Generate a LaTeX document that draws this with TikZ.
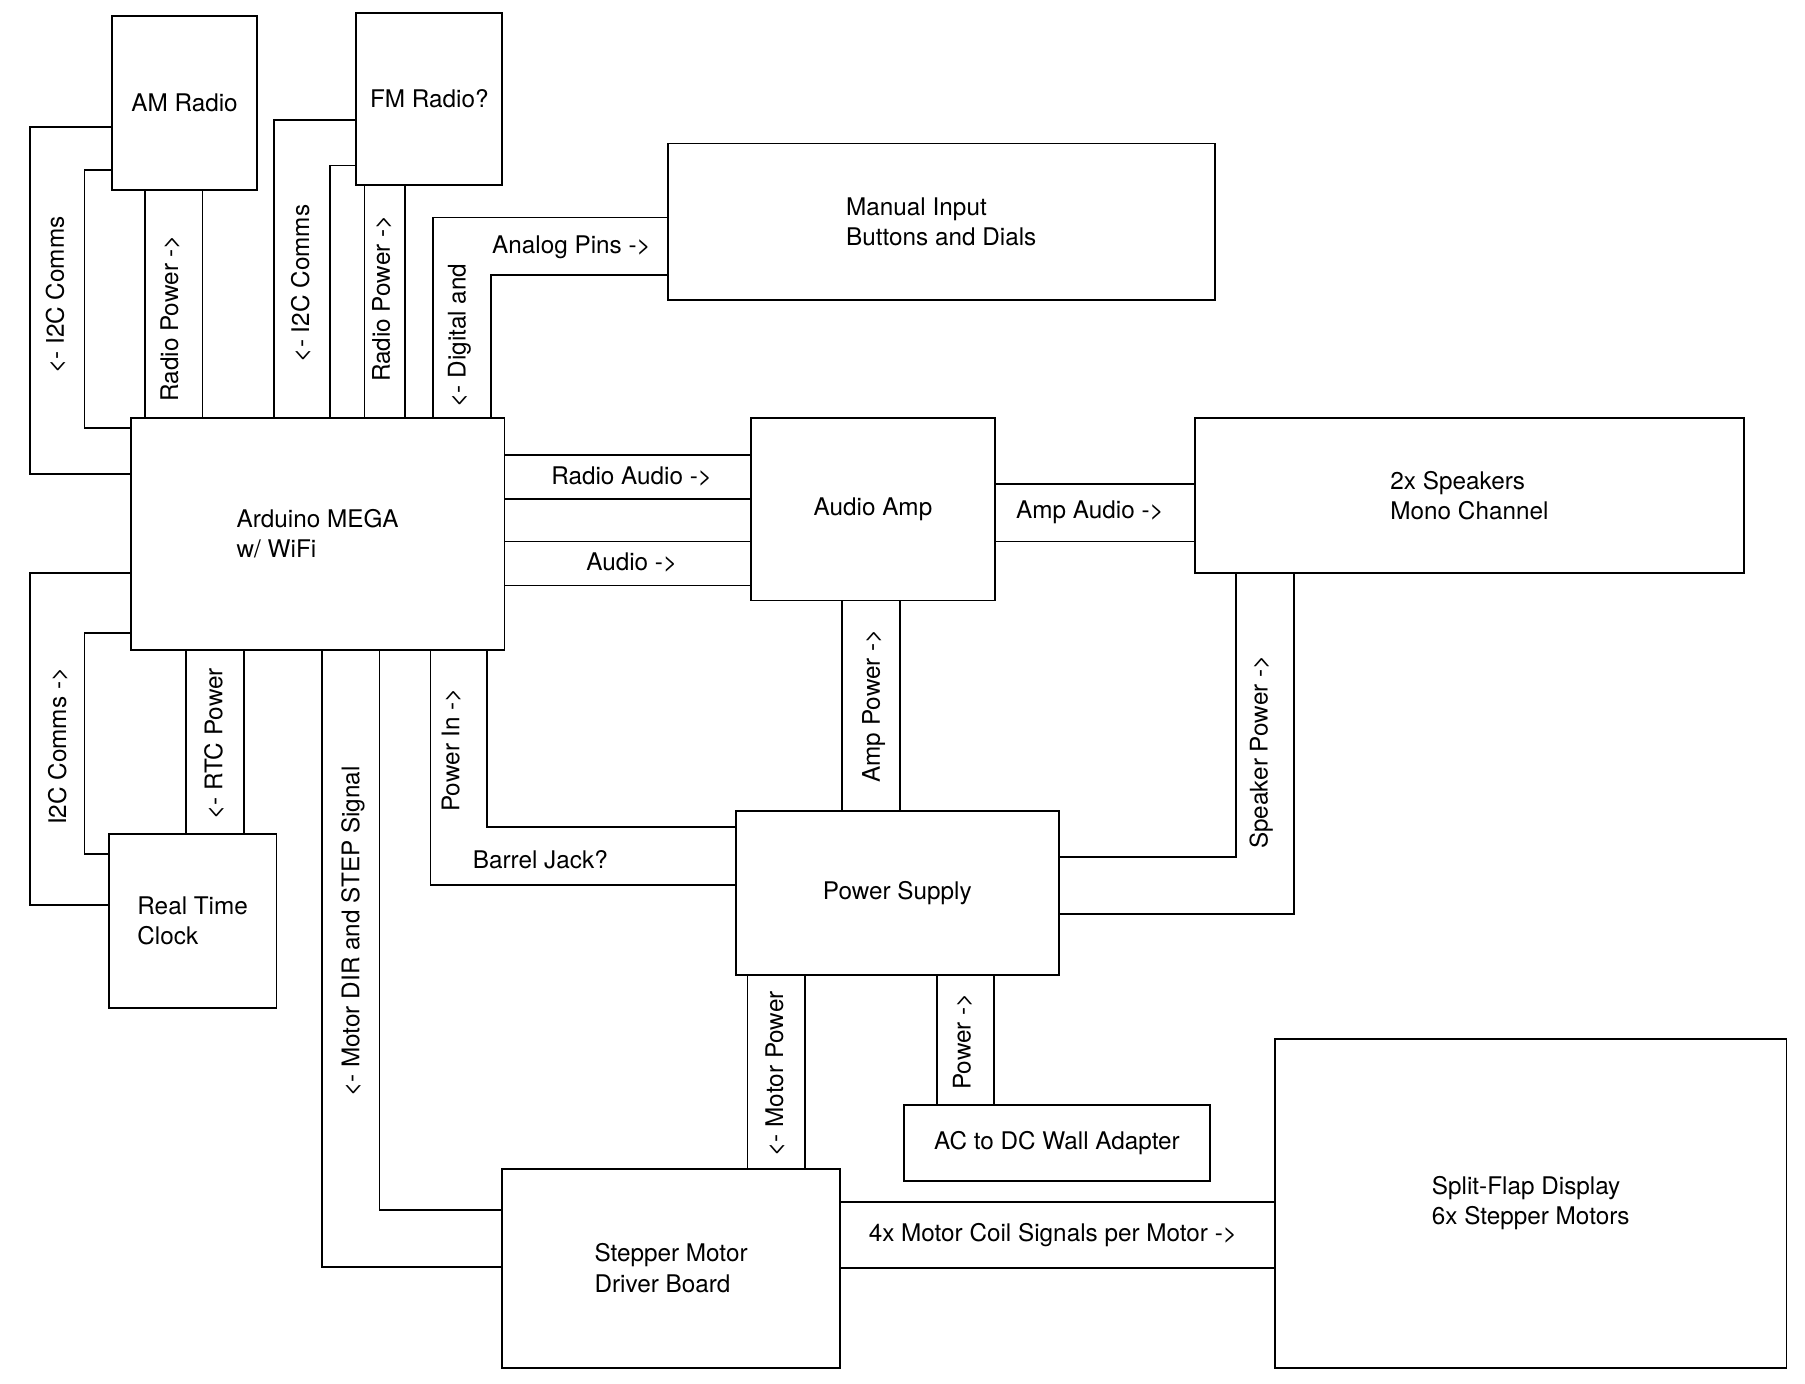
\documentclass[tikz,border=0pt]{standalone}
\usepackage{fontspec}
\setmainfont{TeX Gyre Heros}
\begin{document}
\begin{tikzpicture}[x=0.5pt,y=-0.5pt,line width=0.8pt,
 box/.style={draw,inner sep=0pt,align=left,font=\fontsize{10.5}{13}\selectfont},
 lab/.style={font=\fontsize{10.5}{13}\selectfont,inner sep=1pt},
 rot/.style={lab,rotate=90}]
\useasboundingbox (0,0) rectangle (1560,1196);
\newcommand\bx[6]{\node[box,minimum width={(#4-#2)*0.5pt},minimum height={(#5-#3)*0.5pt}] (#1) at ({(#2+#4)/2},{(#3+#5)/2}) {#6};}
\bx{am}{97}{14}{222}{164}{AM Radio}
\bx{fm}{308}{11}{434}{160}{FM Radio?}
\bx{man}{577}{124}{1050}{259}{Manual Input\\Buttons and Dials}
\bx{ard}{113}{361}{436}{562}{Arduino MEGA\\w/ WiFi}
\bx{amp}{649}{361}{860}{519}{Audio Amp}
\bx{spk}{1033}{361}{1507}{495}{2x Speakers\\Mono Channel}
\bx{ps}{636}{701}{915}{843}{Power Supply}
\bx{rtc}{94}{721}{239}{871}{Real Time\\Clock}
\bx{ac}{781}{955}{1046}{1021}{AC to DC Wall Adapter}
\bx{stp}{434}{1010}{726}{1182}{Stepper Motor\\Driver Board}
\bx{sfd}{1102}{898}{1544}{1182}{Split-Flap Display\\6x Stepper Motors}
% AM radio
\draw (ard.west |- 0,410) -| (26,110) -- (am.west |- 0,110);
\draw (ard.west |- 0,370) -| (73,147) -- (am.west |- 0,147);
\node[rot] at (48,255) {<- I2C Comms};
\draw (am.south -| 125,0) -- (ard.north -| 125,0);
\draw (am.south -| 175,0) -- (ard.north -| 175,0);
\node[rot] at (147,275) {Radio Power ->};
% FM radio
\draw (ard.north -| 237,0) |- (fm.west |- 0,104);
\draw (ard.north -| 285,0) |- (fm.west |- 0,143);
\node[rot] at (260,245) {<- I2C Comms};
\draw (fm.south -| 315,0) -- (ard.north -| 315,0);
\draw (fm.south -| 350,0) -- (ard.north -| 350,0);
\node[rot] at (330,258) {Radio Power ->};
% Manual
\draw (ard.north -| 374,0) |- (man.west |- 0,188);
\draw (ard.north -| 424,0) |- (man.west |- 0,238);
\node[rot] at (397,290) {<- Digital and};
\node[lab] at (494,214) {Analog Pins ->};
% audio
\draw (ard.east |- 0,393) -- (amp.west |- 0,393);
\draw (ard.east |- 0,431) -- (amp.west |- 0,431);
\node[lab] at (546,412) {Radio Audio ->};
\draw (ard.east |- 0,468) -- (amp.west |- 0,468);
\draw (ard.east |- 0,506) -- (amp.west |- 0,506);
\node[lab] at (546,486) {Audio ->};
\draw (amp.east |- 0,418) -- (spk.west |- 0,418);
\draw (amp.east |- 0,468) -- (spk.west |- 0,468);
\node[lab] at (942,443) {Amp Audio ->};
% amp power
\draw (amp.south -| 728,0) -- (ps.north -| 728,0);
\draw (amp.south -| 778,0) -- (ps.north -| 778,0);
\node[rot] at (755,610) {Amp Power ->};
% speaker power
\draw (spk.south -| 1068,0) |- (ps.east |- 0,741);
\draw (spk.south -| 1118,0) |- (ps.east |- 0,790);
\node[rot] at (1090,650) {Speaker Power ->};
% RTC
\draw (ard.west |- 0,495) -| (26,782) -- (rtc.west |- 0,782);
\draw (ard.west |- 0,547) -| (73,738) -- (rtc.west |- 0,738);
\node[rot] at (50,645) {I2C Comms ->};
\draw (ard.south -| 161,0) -- (rtc.north -| 161,0);
\draw (ard.south -| 211,0) -- (rtc.north -| 211,0);
\node[rot] at (185,643) {<- RTC Power};
% motor dir
\draw (ard.south -| 278,0) |- (stp.west |- 0,1095);
\draw (ard.south -| 328,0) |- (stp.west |- 0,1046);
\node[rot] at (305,805) {<- Motor DIR and STEP Signal};
% power in
\draw (ard.south -| 372,0) |- (ps.west |- 0,765);
\draw (ard.south -| 421,0) |- (ps.west |- 0,715);
\node[rot] at (390,648) {Power In ->};
\node[lab] at (467,743) {Barrel Jack?};
% motor power
\draw (ps.south -| 646,0) -- (stp.north -| 646,0);
\draw (ps.south -| 696,0) -- (stp.north -| 696,0);
\node[rot] at (670,928) {<- Motor Power};
\draw (ps.south -| 810,0) -- (ac.north -| 810,0);
\draw (ps.south -| 859,0) -- (ac.north -| 859,0);
\node[rot] at (832,900) {Power ->};
% coil
\draw (stp.east |- 0,1039) -- (sfd.west |- 0,1039);
\draw (stp.east |- 0,1096) -- (sfd.west |- 0,1096);
\node[lab] at (910,1067) {4x Motor Coil Signals per Motor ->};
\end{tikzpicture}
\end{document}
